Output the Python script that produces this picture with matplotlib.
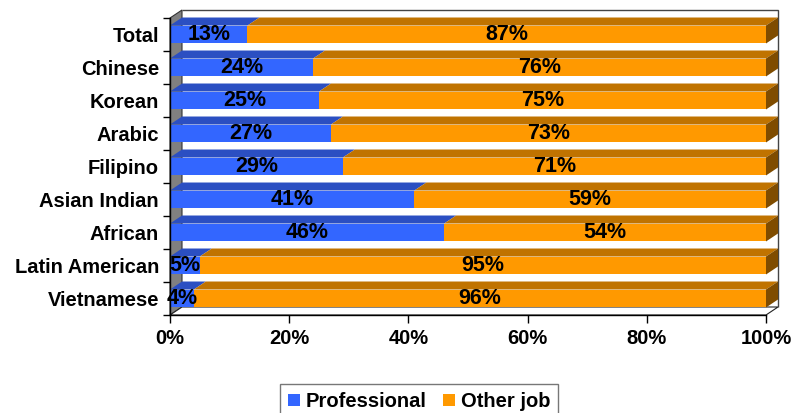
import matplotlib.pyplot as plt
from matplotlib.patches import Polygon, Rectangle, Patch

plt.rcParams['font.family'] = ['Liberation Sans', 'DejaVu Sans']
plt.rcParams['font.weight'] = 'bold'

groups = ['Total', 'Chinese', 'Korean', 'Arabic', 'Filipino', 'Asian Indian',
          'African', 'Latin American', 'Vietnamese']
professional = [13, 24, 25, 27, 29, 41, 46, 5, 4]
other_job = [87, 76, 75, 73, 71, 59, 54, 95, 96]
x_ticks = [0, 20, 40, 60, 80, 100]

blue = '#3366FF'
blue_top = '#2B4FC2'
orange = '#FF9900'
orange_top = '#C07300'
orange_side = '#7F4C00'

W, H = 797, 413
fig = plt.figure(figsize=(W / 100, H / 100), dpi=100)
ax = fig.add_axes([170 / W, 98 / H, 596 / W, 297 / H])

n = len(groups)
ax.set_xlim(0, 100)
ax.set_ylim(-0.5, n - 0.5)

# depth of the 3d effect in data units (12 px right, 8 px up)
dx = 12 * 100 / 596
dy = 8 * n / 297
h = 0.545

# side wall, back frame and floor
ax.add_patch(Polygon([(0, -0.5), (dx, -0.5 + dy), (dx, n - 0.5 + dy), (0, n - 0.5)],
                     closed=True, fc='#808080', ec='#333333', lw=0.8, clip_on=False, zorder=0))
ax.add_patch(Polygon([(dx, n - 0.5 + dy), (100 + dx, n - 0.5 + dy), (100 + dx, -0.5 + dy)],
                     closed=False, fill=False, ec='#444444', lw=1.0, clip_on=False, zorder=0))
ax.add_patch(Polygon([(0, -0.5), (100, -0.5), (100 + dx, -0.5 + dy), (dx, -0.5 + dy)],
                     closed=True, fc='white', ec='#222222', lw=0.8, clip_on=False, zorder=0))

for i, g in enumerate(groups):
    y = n - 1 - i
    yb, yt = y - h / 2, y + h / 2
    p = professional[i]
    o = other_job[i]
    segs = [(0, p, blue, blue_top), (p, p + o, orange, orange_top)]
    for a, b, fc, tc in segs:
        ax.add_patch(Rectangle((a, yb), b - a, h, fc=fc, ec='none', zorder=2, clip_on=False))
        ax.add_patch(Polygon([(a, yt), (b, yt), (b + dx, yt + dy), (a + dx, yt + dy)],
                             closed=True, fc=tc, ec='none', zorder=2, clip_on=False))
    ax.add_patch(Polygon([(100, yb), (100, yt), (100 + dx, yt + dy), (100 + dx, yb + dy)],
                         closed=True, fc=orange_side, ec='none', zorder=2, clip_on=False))
    ax.text(p / 2, y, f'{p}%', ha='center', va='center', fontsize=15.5,
            fontweight='bold', zorder=5, clip_on=False)
    ax.text(p + o / 2, y, f'{o}%', ha='center', va='center', fontsize=15.5,
            fontweight='bold', zorder=5, clip_on=False)

ax.set_yticks(range(n))
ax.set_yticklabels(groups[::-1], fontsize=14.5, fontweight='bold')
ax.set_yticks([k - 0.5 for k in range(n + 1)], minor=True)
ax.tick_params(axis='y', which='major', length=0, pad=8)
ax.tick_params(axis='y', which='minor', length=5, width=1, color='black')

ax.set_xticks(x_ticks)
ax.set_xticklabels([f'{t}%' for t in x_ticks], fontsize=14.5, fontweight='bold')
ax.tick_params(axis='x', which='major', length=6, width=1, pad=4)

for s in ['top', 'right']:
    ax.spines[s].set_visible(False)
for s in ['left', 'bottom']:
    ax.spines[s].set_color('black')
    ax.spines[s].set_linewidth(1.0)
    ax.spines[s].set_zorder(6)
ax.patch.set_visible(False)

handles = [Patch(fc=blue, ec='none'), Patch(fc=orange, ec='none')]
leg = fig.legend(handles, ['Professional', 'Other job'], loc='lower center',
                 bbox_to_anchor=(419 / W, -0.015), ncol=2, frameon=True, fancybox=False,
                 edgecolor='#555555', prop={'size': 14.5, 'weight': 'bold'},
                 handlelength=0.6, handleheight=0.6, handletextpad=0.3,
                 columnspacing=0.8, borderpad=0.4, borderaxespad=0)
leg.get_frame().set_linewidth(1.0)

fig.savefig('out.png', dpi=100)
